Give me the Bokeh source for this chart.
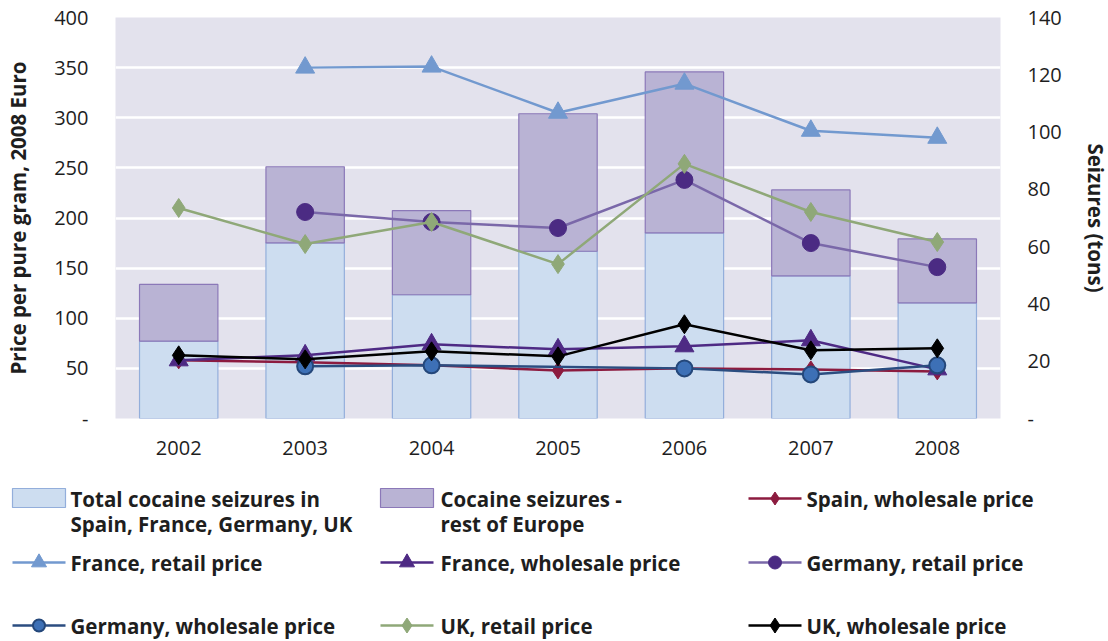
from bokeh.plotting import figure
from bokeh.models import Range1d, LinearAxis, FactorRange, FixedTicker
from bokeh.embed import file_html
from bokeh.resources import INLINE
from bokeh.core.properties import value

# ---------------- data ----------------
years = ["2002", "2003", "2004", "2005", "2006", "2007", "2008"]

# seizures (tons), right axis
seizures_big4 = [27.0, 61.3, 43.2, 58.4, 64.8, 49.8, 40.4]
seizures_rest = [19.8, 26.6, 29.4, 48.0, 56.2, 30.0, 22.3]

# prices (EUR per pure gram, 2008), left axis; None = no data
spain_wholesale = [58, 56, 53, 48, 50, 49, 47]
france_retail = [None, 350, 351, 305, 334, 287, 280]
france_wholesale = [58, 63, 74, 69, 72, 78, 49]
germany_retail = [None, 206, 196, 190, 238, 175, 151]
germany_wholesale = [None, 52, 53, None, 50, 44, 53]
uk_retail = [210, 174, 196, 154, 254, 206, 176]
uk_wholesale = [63, 59, 67, 62, 94, 68, 70]

left_ticks = [0, 50, 100, 150, 200, 250, 300, 350, 400]
right_ticks = [0, 20, 40, 60, 80, 100, 120, 140]

bar_labels = ["Total cocaine seizures in\nSpain, France, Germany, UK",
              "Cocaine seizures -\nrest of Europe"]

FONT = "Open Sans"
TXT = "#1e1e1e"

# series styling: (label, values, line colour, marker, marker fill, marker line, size)
series = [
    ("Spain, wholesale price", spain_wholesale, "#8C1B3F", "diamond", "#8C1B3F", "#8C1B3F", 17),
    ("France, retail price", france_retail, "#7299CF", "triangle", "#7299CF", "#7299CF", 19),
    ("France, wholesale price", france_wholesale, "#4E2A84", "triangle", "#4E2A84", "#4E2A84", 19),
    ("Germany, retail price", germany_retail, "#7A68A9", "circle", "#4B2B83", "#4B2B83", 17),
    ("Germany, wholesale price", germany_wholesale, "#2B4D80", "circle", "#3D70B6", "#24477A", 16),
    ("UK, retail price", uk_retail, "#8FA878", "diamond", "#8FA878", "#8FA878", 19),
    ("UK, wholesale price", uk_wholesale, "#000000", "diamond", "#000000", "#000000", 19),
]
bar_styles = [("#CDDDF0", "#93AEDB"), ("#B9B3D4", "#8B78B8")]

# ---------------- layout (page pixels) ----------------
OX, OY = 0, 0                 # where the first figure's corner lands in the picture
W = 1108
FL, FT, FW, FH = 115, 17, 885, 401
H1 = 470                      # main figure height
H2 = 171                      # legend strip height

p = figure(x_range=FactorRange(*years), y_range=Range1d(0, 400),
           width=W, height=H1, frame_width=FW, frame_height=FH,
           min_border_left=FL - OX, min_border_right=W - (FL - OX) - FW,
           min_border_top=FT - OY, min_border_bottom=H1 - (FT - OY) - FH,
           output_backend="svg", toolbar_location=None,
           background_fill_color="#E3E2ED", outline_line_color=None)
p.extra_y_ranges = {"tons": Range1d(0, 140)}

p.xgrid.grid_line_color = None
p.ygrid.grid_line_color = "white"
p.ygrid.grid_line_width = 2.5
p.ygrid.ticker = FixedTicker(ticks=left_ticks)

ya = p.yaxis[0]
ya.ticker = FixedTicker(ticks=left_ticks)
ya.major_label_overrides = {0: "-"}
ya.axis_label = "Price per pure gram, 2008 Euro"

ra = LinearAxis(y_range_name="tons", ticker=FixedTicker(ticks=right_ticks),
                axis_label="Seizures (tons)")
ra.major_label_overrides = {0: "-"}
p.add_layout(ra, "right")

for ax in [ya, ra]:
    ax.axis_line_color = None
    ax.major_tick_line_color = None
    ax.minor_tick_line_color = None
    ax.major_label_text_font = FONT
    ax.major_label_text_font_size = "20px"
    ax.major_label_text_color = TXT
    ax.axis_label_text_font = FONT
    ax.axis_label_text_font_size = "20.5px"
    ax.axis_label_text_font_style = "bold"
    ax.axis_label_text_color = TXT
ya.major_label_standoff = 21
ra.major_label_standoff = 21
ya.axis_label_standoff = 19
ra.axis_label_standoff = 17

xa = p.xaxis[0]
xa.axis_line_color = None
xa.major_tick_line_color = None
xa.major_label_text_font = FONT
xa.major_label_text_font_size = "20px"
xa.major_label_text_color = TXT
xa.major_label_standoff = 16

totals = [a + b for a, b in zip(seizures_big4, seizures_rest)]
p.vbar(x=years, bottom=0, top=seizures_big4, width=0.62, y_range_name="tons",
       fill_color=bar_styles[0][0], line_color=bar_styles[0][1], line_width=1.2)
p.vbar(x=years, bottom=seizures_big4, top=totals, width=0.62, y_range_name="tons",
       fill_color=bar_styles[1][0], line_color=bar_styles[1][1], line_width=1.2)

for label, vals, lc, mk, mf, ml, sz in series:
    xs = [y for y, v in zip(years, vals) if v is not None]
    vs = [v for v in vals if v is not None]
    p.line(xs, vs, line_color=lc, line_width=2.5)
    p.scatter(xs, vs, marker=mk, size=sz, fill_color=mf, line_color=ml,
              line_width=2 if mk == "circle" and ml != mf else 1)

# ---------------- legend strip (page-pixel coordinates) ----------------
top2 = OY + H1
lg = figure(width=W, height=H2, x_range=Range1d(OX, OX + W), y_range=Range1d(top2 + H2, top2),
            x_axis_type=None, y_axis_type=None, toolbar_location=None,
            output_backend="svg", min_border=0, outline_line_color=None)
lg.grid.grid_line_color = None

col_sample = [12, 380, 748]
col_text = [70, 440, 806]
row_y = [498, 562, 625]
line_gap = 25

items = [("bar", bar_labels[i]) + bar_styles[i] for i in range(2)]
items += [("line",) + s for s in series]

for i, it in enumerate(items):
    c, r = i % 3, i // 3
    x0, xt, yy = col_sample[c], col_text[c], row_y[r]
    if it[0] == "bar":
        lg.quad(left=[x0], right=[x0 + 53], top=[yy - 10], bottom=[yy + 9],
                fill_color=it[2], line_color=it[3], line_width=1.2)
        text = it[1]
    else:
        _, text, _, lc, mk, mf, ml, sz = it
        lg.segment(x0=[x0], y0=[yy], x1=[x0 + 53], y1=[yy], line_color=lc, line_width=2.5)
        lg.scatter([x0 + 26.5], [yy], marker=mk, size=sz - 4, fill_color=mf, line_color=ml,
                   line_width=2 if mk == "circle" and ml != mf else 1)
    for k, ln in enumerate(text.split("\n")):
        lg.text([xt], [yy + k * line_gap], text=[ln], text_baseline="middle",
                text_align="left", text_font=value(FONT), text_font_style="bold",
                text_font_size="20.5px", text_color=TXT)

open("out.html", "w").write(file_html([p, lg], INLINE))
